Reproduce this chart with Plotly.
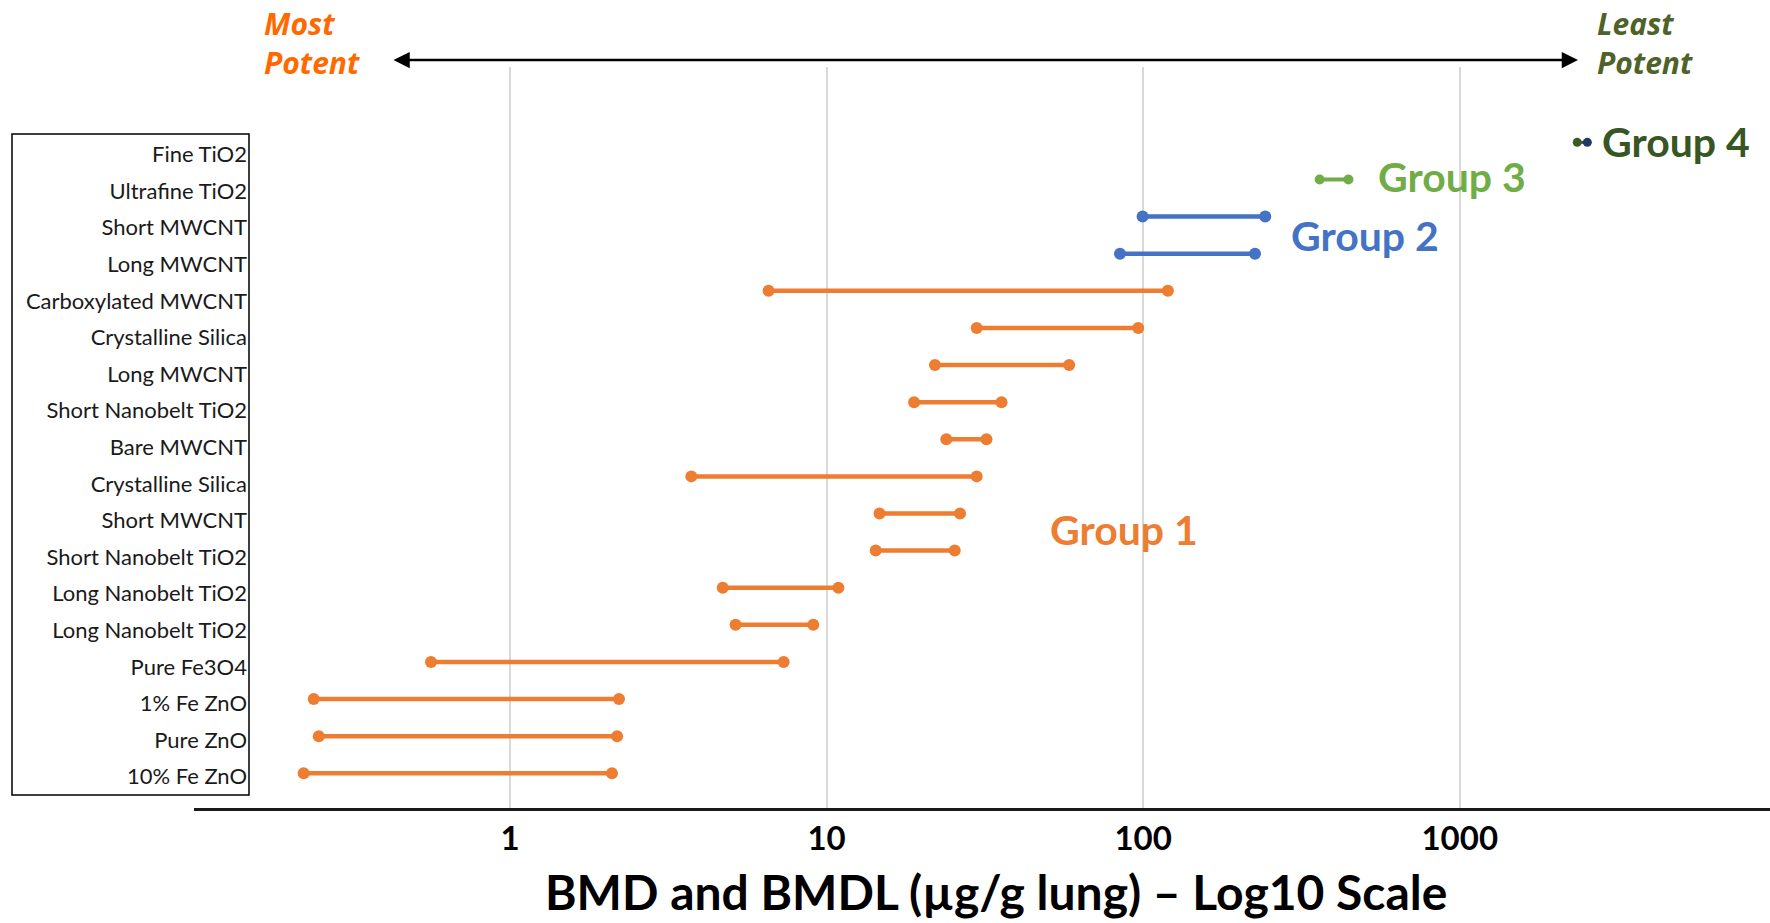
import math
import plotly.graph_objects as go

# ---- data (bottom row first) ----
materials = ["10% Fe ZnO", "Pure ZnO", "1% Fe ZnO", "Pure Fe3O4", "Long Nanobelt TiO2",
             "Long Nanobelt TiO2", "Short Nanobelt TiO2", "Short MWCNT", "Crystalline Silica",
             "Bare MWCNT", "Short Nanobelt TiO2", "Long MWCNT", "Crystalline Silica",
             "Carboxylated MWCNT", "Long MWCNT", "Short MWCNT", "Ultrafine TiO2", "Fine TiO2"]
bmdl = [0.223, 0.249, 0.240, 0.563, 5.16, 4.70, 14.3, 14.7, 3.74, 23.9, 18.9, 22.0, 29.8,
        6.56, 84.5, 99.6, 361, 2350]
bmd = [2.10, 2.18, 2.21, 7.32, 9.08, 10.9, 25.4, 26.4, 29.8, 32.0, 35.7, 58.4, 96.5,
       119.7, 225.6, 243, 445, 2530]
group = [1] * 14 + [2, 2, 3, 4]
group_names = {1: "Group 1", 2: "Group 2", 3: "Group 3", 4: "Group 4"}
group_colors = {1: "#ED7D31", 2: "#4472C4", 3: "#70AD47", 4: "#3B5A24"}
tick_vals = [1, 10, 100, 1000]
tick_text = ["1", "10", "100", "1000"]
x_title = "BMD and BMDL (µg/g lung) – Log10 Scale"

FONT = "Lato"
OFF = 0  # page body margin removed via post_script
W, H = 1770 - OFF, 923 - OFF
ML, MR, MT, MB = 194 - OFF, 0, 67 - OFF, 115
PW, PH = W - ML - MR, H - MT - MB


def px_x(px):
    return (px - OFF - ML) / PW


def px_y(py):
    return (OFF + H - MB - py) / PH


fig = go.Figure()

for g in [1, 2, 3, 4]:
    xs, ys = [], []
    for i, gg in enumerate(group):
        if gg == g:
            xs += [bmdl[i], bmd[i], None]
            ys += [i, i, None]
    size = {1: 12, 2: 12, 3: 10, 4: 9}[g]
    width = {1: 4.5, 2: 4.5, 3: 4, 4: 3}[g]
    mcolor = group_colors[g]
    if g == 4:
        mcolor = ["#3B5A24", "#1F3864", "#1F3864"]
    fig.add_trace(go.Scatter(
        x=xs, y=ys, mode="lines+markers", name=group_names[g],
        line=dict(color=group_colors[g], width=width),
        marker=dict(color=mcolor, size=size),
        showlegend=False, connectgaps=False))

# invisible trace to activate label axis
fig.add_trace(go.Scatter(x=[None], y=[None], yaxis="y2", showlegend=False))

group_label_pos = {1: (1.700, 6.57), 2: (2.462, 14.48), 3: (2.735, 16.09), 4: (3.443, 17.03)}
annotations = []
for g, (lx, ly) in group_label_pos.items():
    annotations.append(dict(
        x=lx, y=ly, xref="x", yref="y", xanchor="left", yanchor="middle",
        text=group_names[g], showarrow=False,
        font=dict(family=FONT, size=41, color=group_colors[g] if g != 4 else "#375623",
                  weight="bold")))

# potency arrow and texts
annotations.append(dict(
    x=px_x(1578), y=px_y(60), ax=-(1578 - 392), ay=0, xref="paper", yref="paper",
    axref="pixel", ayref="pixel", text="", showarrow=True, arrowside="end+start",
    arrowhead=2, arrowsize=1.3, arrowwidth=2.5, arrowcolor="#000000"))
annotations.append(dict(x=px_x(262), y=px_y(1), xref="paper", yref="paper",
                        xanchor="left", yanchor="top", align="left",
                        text="<i>Most</i><br><i>Potent</i>", showarrow=False,
                        font=dict(family="Open Sans", size=30, color="#FF6A00", weight="bold")))
annotations.append(dict(x=px_x(1595), y=px_y(1), xref="paper", yref="paper",
                        xanchor="left", yanchor="top", align="left",
                        text="<i>Least</i><br><i>Potent</i>", showarrow=False,
                        font=dict(family="Open Sans", size=30, color="#4F6228", weight="bold")))

# x axis title (offset to the right as in the reference)
annotations.append(dict(x=px_x(996), y=px_y(891), xref="paper", yref="paper",
                        xanchor="center", yanchor="middle", text=x_title, showarrow=False,
                        font=dict(family=FONT, size=48, color="#000000", weight="bold")))

shapes = [dict(type="rect", xref="paper", yref="paper",
               x0=px_x(12), x1=px_x(249), y0=px_y(795), y1=px_y(134),
               line=dict(color="#000000", width=1.5), fillcolor="rgba(0,0,0,0)", layer="above")]

fig.update_layout(
    width=W, height=H,
    margin=dict(l=ML, r=MR, t=MT, b=MB, pad=0),
    paper_bgcolor="white", plot_bgcolor="white",
    font=dict(family=FONT, color="#000000"),
    xaxis=dict(type="log", range=[-0.998, 3.980], tickvals=tick_vals, ticktext=tick_text,
               showgrid=True, gridcolor="#D9D9D9", gridwidth=1.5, zeroline=False,
               showline=True, linecolor="#1a1a1a", linewidth=2.5, ticks="",
               tickfont=dict(family=FONT, size=33, color="#000000", weight="bold")),
    yaxis=dict(range=[-0.935, 19.03], showgrid=False, zeroline=False, showline=False,
               showticklabels=False, ticks=""),
    yaxis2=dict(overlaying="y", anchor="free", side="left", position=px_x(247),
                range=[-0.858, 19.39], tickvals=list(range(len(materials))),
                ticktext=materials, showgrid=False, zeroline=False, showline=False,
                ticks="", tickfont=dict(family=FONT, size=22, color="#1a1a1a")),
    annotations=annotations, shapes=shapes,
)

fig.write_html("out.html", config={"displayModeBar": False},
               post_script="document.body.style.margin='0';document.body.style.overflow='hidden';")
